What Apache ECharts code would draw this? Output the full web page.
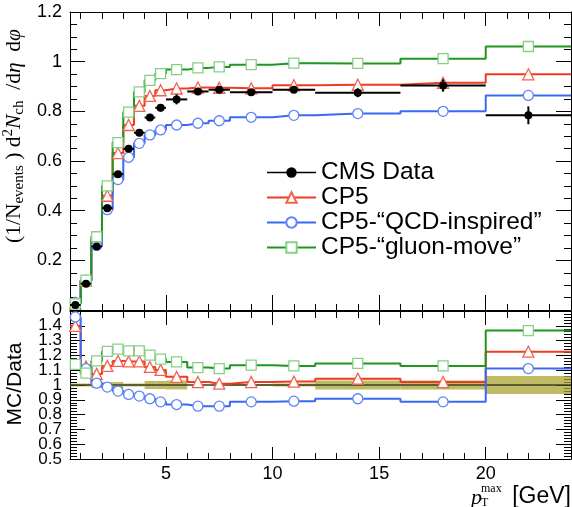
<!DOCTYPE html>
<html><head><meta charset="utf-8">
<script src="https://cdn.jsdelivr.net/npm/echarts@6/dist/echarts.min.js"></script>
<style>html,body{margin:0;padding:0;background:#fff}#c{width:572px;height:507px}</style>
</head><body><div id="c"></div>
<script>
// ---- data ----
const binEdges   = [0.5,1,1.5,2,2.5,3,3.5,4,4.5,5,6,7,8,10,12,16,20,24];
const binCenters = [0.75,1.25,1.75,2.25,2.75,3.25,3.75,4.25,4.75,5.5,6.5,7.5,9,11,14,18,22];
const dataValues = [0.02,0.106,0.256,0.41,0.547,0.649,0.714,0.775,0.814,0.848,0.88,0.887,0.877,0.887,0.875,0.904,0.784];
const dataErrors = [0.003,0.003,0.004,0.005,0.006,0.007,0.008,0.01,0.015,0.02,0.005,0.006,0.006,0.007,0.018,0.025,0.036];
const cp5Values   = [0.028,0.118,0.278,0.46,0.632,0.745,0.822,0.862,0.885,0.892,0.896,0.895,0.893,0.905,0.907,0.915,0.949];
const qcdValues   = [0.03,0.118,0.26,0.404,0.525,0.615,0.671,0.705,0.725,0.745,0.752,0.762,0.776,0.784,0.791,0.80,0.864];
const gluonValues = [0.025,0.12,0.295,0.5,0.674,0.797,0.878,0.925,0.952,0.968,0.975,0.979,0.988,0.994,0.993,1.012,1.061];
const gluonErrors = [0,0,0,0,0,0,0,0,0,0,0,0,0,0,0,0.01,0.016];
const cp5Ratio   = [1.40,1.125,1.075,1.129,1.163,1.159,1.159,1.122,1.102,1.055,1.02,1.009,1.02,1.023,1.043,1.02,1.225];
const qcdRatio   = [1.46,1.11,1.012,0.986,0.959,0.936,0.925,0.907,0.886,0.868,0.857,0.857,0.886,0.891,0.907,0.886,1.111];
const gluonRatio = [1.14,1.08,1.163,1.227,1.243,1.231,1.231,1.202,1.175,1.156,1.118,1.111,1.134,1.129,1.146,1.129,1.368];
const gluonRatioErrors = [0,0,0,0,0,0,0,0,0,0,0,0,0,0,0,0.012,0.02];
const dataBand   = [0.01,0.01,0.02,0.02,0.02,0.01,0.01,0.027,0.027,0.03,0.004,0.004,0.006,0.01,0.03,0.03,0.06];
const xMajorTicks = [5,10,15,20];
const xMinorTicks = [1,2,3,4,6,7,8,9,11,12,13,14,16,17,18,19,21,22,23];
const ratioMinLabel = [0.5];
const legendNames = ['CMS Data','CP5','CP5-“QCD-inspired”','CP5-“gluon-move”'];

// ---- styling ----
const RED = '#ef3b1f', RED_M = '#f2634f';
const BLUE = '#3a69f3', BLUE_M = '#5d86f5';
const GREEN = '#1f961f', GREEN_M = '#86cf86';
const SANS = 'Liberation Sans';
const SERIF = 'Liberation Serif';

function stepData(values){
  const out = [];
  values.forEach((v,i)=>{
    out.push({value:[binEdges[i], v], symbol:'none'});
    out.push({value:[binCenters[i], v]});
  });
  out.push({value:[binEdges[binEdges.length-1], values[values.length-1]], symbol:'none'});
  return out;
}
function mcSeries(name, values, xi, yi, color, mcolor, symbol, size){
  return {type:'line', name, xAxisIndex:xi, yAxisIndex:yi, step:'end', data:stepData(values),
    symbol, symbolSize:size, z:3,
    lineStyle:{color, width:2}, itemStyle:{color:'#fff', borderColor:mcolor, borderWidth:1.3},
    emphasis:{disabled:true}, animation:false};
}
function errSeries(values, errs, xi, yi, color){
  return {type:'custom', name:'err'+xi+color, xAxisIndex:xi, yAxisIndex:yi, z:2,
    data: values.map((v,i)=>[binCenters[i], v, errs[i]]),
    encode:{x:0, y:1},
    renderItem:(p, api)=>{
      const e = api.value(2); if(!e) return null;
      const a = api.coord([api.value(0), api.value(1)+e]);
      const b = api.coord([api.value(0), api.value(1)-e]);
      return {type:'line', shape:{x1:a[0],y1:a[1],x2:b[0],y2:b[1]}, style:{stroke:color, lineWidth:2}};
    }, animation:false};
}

function xAxes(grid, bottomMajorLen, showLabels){
  const base = {gridIndex:grid, type:'value', min:0.5, max:24, splitLine:{show:false}};
  return [
    Object.assign({}, base, {position:'bottom', axisLine:{show:true, lineStyle:{color:'#000', width:1}},
      axisTick:{show:true, inside:true, length:bottomMajorLen, customValues:xMajorTicks, lineStyle:{color:'#000', width:1}},
      axisLabel:showLabels ? {show:true, customValues:xMajorTicks, fontSize:18, fontFamily:SANS, color:'#000', margin:6} : {show:false}}),
    Object.assign({}, base, {position:'bottom', axisLine:{show:false},
      axisTick:{show:true, inside:true, length:6, customValues:xMinorTicks, lineStyle:{color:'#000', width:1}}, axisLabel:{show:false}}),
    Object.assign({}, base, {position:'top', axisLine:{show:true, lineStyle:{color:'#000', width:1}},
      axisTick:{show:true, inside:true, length:14, customValues:xMajorTicks, lineStyle:{color:'#000', width:1}}, axisLabel:{show:false}}),
    Object.assign({}, base, {position:'top', axisLine:{show:false},
      axisTick:{show:true, inside:true, length:7, customValues:xMinorTicks, lineStyle:{color:'#000', width:1}}, axisLabel:{show:false}})
  ];
}
function yAxes(grid, min, max, interval, split, showMin, showMax, fs){
  const base = {gridIndex:grid, type:'value', min, max, interval, splitLine:{show:false},
    axisLine:{show:true, lineStyle:{color:'#000', width:1}},
    axisTick:{show:true, inside:true, length:15, lineStyle:{color:'#000', width:1}},
    minorTick:{show:true, splitNumber:split, length:7, lineStyle:{color:'#000', width:1}}};
  return [
    Object.assign({}, base, {position:'left', axisLabel:{show:true, color:'#000', margin:8,
      fontSize:fs, fontFamily:SANS, showMaxLabel:showMax, showMinLabel:showMin, hideOverlap:false}}),
    Object.assign({}, base, {position:'right', axisLabel:{show:false}})
  ];
}

const option = {
  animation:false,
  backgroundColor:'#fff',
  grid:[
    {left:70, right:1, top:12, height:298},
    {left:70, right:1, top:311, height:148}
  ],
  xAxis:[...xAxes(0, 15, false), ...xAxes(1, 12, true)],
  yAxis:[...yAxes(0, 0, 1.2, 0.2, 4, true, true, 18), ...yAxes(1, 0.5, 1.5, 0.1, 5, false, false, 17),
    {gridIndex:1, type:'value', min:0.5, max:1.5, position:'left', splitLine:{show:false},
     axisLine:{show:false}, axisTick:{show:false},
     axisLabel:{show:true, customValues:ratioMinLabel, fontSize:17, fontFamily:SANS, color:'#000', margin:8}}],
  legend:{
    data:[{name:'CMS Data', itemStyle:{color:'#000', borderColor:'#000'}, lineStyle:{color:'#000', width:1.5, opacity:1}},
          legendNames[1], legendNames[2], legendNames[3]],
    orient:'vertical', left:261, top:155, itemWidth:49, itemHeight:13, itemGap:0,
    selectedMode:false,
    textStyle:{fontSize:24.5, fontFamily:SANS, color:'#000', lineHeight:23.3}
  },
  series:[
    // top panel
    mcSeries(legendNames[1], cp5Values, 0, 0, RED, RED_M, 'triangle', 11),
    mcSeries(legendNames[2], qcdValues, 0, 0, BLUE, BLUE_M, 'circle', 10),
    mcSeries(legendNames[3], gluonValues, 0, 0, GREEN, GREEN_M, 'rect', 10),
    errSeries(gluonValues, gluonErrors, 0, 0, GREEN_M),
    {type:'custom', name:'dataErrBars', xAxisIndex:0, yAxisIndex:0, z:5,
      data: dataValues.map((v,i)=>[binEdges[i], binEdges[i+1], binCenters[i], v, dataErrors[i]]),
      encode:{x:[0,1], y:3},
      renderItem:(p, api)=>{
        const lo = api.coord([api.value(0), api.value(3)]);
        const hi = api.coord([api.value(1), api.value(3)]);
        const t = api.coord([api.value(2), api.value(3)+api.value(4)]);
        const b = api.coord([api.value(2), api.value(3)-api.value(4)]);
        return {type:'group', children:[
          {type:'line', shape:{x1:lo[0],y1:lo[1],x2:hi[0],y2:hi[1]}, style:{stroke:'#000', lineWidth:2}},
          {type:'line', shape:{x1:t[0],y1:t[1],x2:b[0],y2:b[1]}, style:{stroke:'#000', lineWidth:2}}
        ]};
      }, animation:false},
    {type:'line', name:'CMS Data', xAxisIndex:0, yAxisIndex:0, z:6,
      data: dataValues.map((v,i)=>[binCenters[i], v]),
      symbol:'circle', symbolSize:8, itemStyle:{color:'#000'},
      lineStyle:{width:0, opacity:0}, emphasis:{disabled:true}, animation:false},
    // ratio panel
    {type:'custom', name:'band', xAxisIndex:4, yAxisIndex:2, z:1,
      data: dataBand.map((e,i)=>[binEdges[i], binEdges[i+1], e]),
      encode:{x:[0,1]},
      renderItem:(p, api)=>{
        const a = api.coord([api.value(0), 1+api.value(2)]);
        const b = api.coord([api.value(1), 1-api.value(2)]);
        return {type:'rect', shape:{x:a[0], y:a[1], width:b[0]-a[0], height:Math.max(b[1]-a[1],1)},
          style:{fill:'rgba(170,164,50,0.75)'}};
      }, animation:false},
    {type:'line', name:'unity', xAxisIndex:4, yAxisIndex:2, z:2, data:[[0.5,1],[24,1]],
      symbol:'none', lineStyle:{color:'#000', width:1.2}, animation:false},
    mcSeries('r-cp5', cp5Ratio, 4, 2, RED, RED_M, 'triangle', 11),
    mcSeries('r-qcd', qcdRatio, 4, 2, BLUE, BLUE_M, 'circle', 10),
    mcSeries('r-gluon', gluonRatio, 4, 2, GREEN, GREEN_M, 'rect', 10),
    errSeries(gluonRatio, gluonRatioErrors, 4, 2, GREEN_M)
  ],
  graphic:[
    {type:'text', x:14, y:136, rotation:Math.PI/2, style:{
      text:'{n|(1/N}{sub|events}{n| ) d}{sup|2}{i|N}{sub|ch}{n|  /d}{i|η}{n|  d}{i|φ}',
      align:'center', verticalAlign:'middle',
      rich:{
        n:{fontFamily:SERIF, fontSize:21.5, lineHeight:26, verticalAlign:'middle', fill:'#000'},
        i:{fontFamily:SERIF, fontStyle:'italic', fontSize:21.5, lineHeight:26, verticalAlign:'middle', fill:'#000'},
        sub:{fontFamily:SERIF, fontSize:15, lineHeight:15, verticalAlign:'bottom', fill:'#000'},
        sup:{fontFamily:SERIF, fontSize:15, lineHeight:15, verticalAlign:'top', fill:'#000'}
      }}},
    {type:'text', x:15, y:384, rotation:Math.PI/2, style:{text:'MC/Data', font:'21px "Liberation Sans"', fill:'#000', align:'center', verticalAlign:'middle'}},
    {type:'text', x:471, y:498, style:{text:'p', font:'italic 22px "Liberation Serif"', fill:'#000', align:'left', verticalAlign:'middle'}},
    {type:'text', x:481, y:489, style:{text:'max', font:'12px "Liberation Serif"', fill:'#000', align:'left', verticalAlign:'middle'}},
    {type:'text', x:481, y:503, style:{text:'T', font:'12px "Liberation Serif"', fill:'#000', align:'left', verticalAlign:'middle'}},
    {type:'text', x:571, y:497, style:{text:'[GeV]', font:'23px "Liberation Sans"', fill:'#000', align:'right', verticalAlign:'middle'}}
  ]
};
const chart = echarts.init(document.getElementById('c'), null, {renderer:'canvas'});
chart.setOption(option);
</script></body></html>
